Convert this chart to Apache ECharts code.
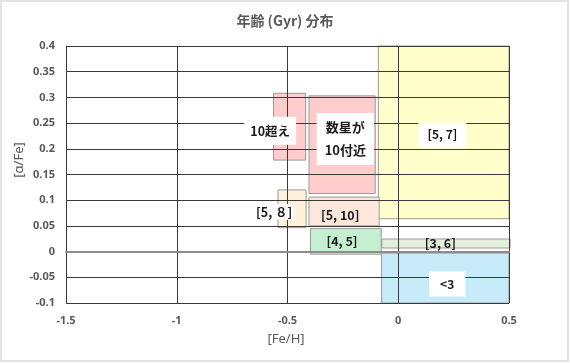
<!DOCTYPE html>
<html>
<head>
<meta charset="utf-8">
<script src="https://cdn.jsdelivr.net/npm/echarts@6/dist/echarts.min.js"></script>
<style>
html,body{margin:0;padding:0;background:#fff;}
#c{width:570px;height:363px;}
</style>
</head>
<body>
<div id="c"></div>
<script>
// Tick labels
var xTicks = [-1.5, -1, -0.5, 0, 0.5];
var yTicks = [-0.1, -0.05, 0, 0.05, 0.1, 0.15, 0.2, 0.25, 0.3, 0.35, 0.4];
// Age groups (labels)
var groups = ['[5, 7]', '10超え', '数星が\n10付近', '[5, ８]', '[5, 10]', '[4, 5]', '[3, 6]', '<3'];
// Box extents in data units: [Fe/H] min/max, [α/Fe] min/max
var feMin   = [-0.09, -0.563, -0.403, -0.543, -0.403, -0.396, -0.074, -0.075];
var feMax   = [ 0.50, -0.418, -0.104, -0.416, -0.086, -0.077,  0.505,  0.50];
var alMin   = [ 0.064, 0.178,  0.113,  0.0465, 0.050, -0.005,  0.007, -0.10];
var alMax   = [ 0.40,  0.308,  0.303,  0.120,  0.106,  0.045,  0.0245, -0.003];
// Label anchor points in data units
var labelFe = [0.199, -0.578, -0.239, -0.56, -0.262, -0.254, 0.19, 0.221];
var labelAl = [0.227,  0.235,  0.219,  0.077, 0.071,  0.0206, 0.0167, -0.063];

var fills = ['#ffffcc', '#ffcccc', '#ffcccc', '#fff2dc', '#fde6dc', '#c6efd2', '#e2f0da', '#c7ebf9'];
var boxStyle = [
  {bg:'#fff', pad:[5,9], lh:14, fs:12},
  {bg:'#fff', pad:[7,6], lh:14, fs:12.5},
  {bg:'#fff', pad:[3,8], lh:23, fs:13},
  {bg:'#fff', pad:[1,1], lh:14, fs:12.5},
  {bg:null, pad:[0,0], lh:14, fs:12.5},
  {bg:null, pad:[0,0], lh:14, fs:12.5},
  {bg:null, pad:[0,0], lh:14, fs:12.5},
  {bg:'#fff', pad:[5,11], lh:15, fs:12}
];

var rectData = groups.map(function(g, i){ return [feMin[i], feMax[i], alMin[i], alMax[i], i]; });
var labelData = groups.map(function(g, i){ return [labelFe[i], labelAl[i], i]; });

var chart = echarts.init(document.getElementById('c'), null, {renderer:'canvas'});
var tickStyle = {color:'#595959', fontSize:11, fontFamily:'Noto Sans, DejaVu Sans, sans-serif', fontWeight:'bold'};
chart.setOption({
  animation:false,
  backgroundColor:'#fff',
  title:{text:'年齢 (Gyr) 分布', left:'center', top:9,
    textStyle:{fontSize:14, fontWeight:'bold', color:'#595959', fontFamily:'Noto Sans CJK JP, sans-serif'}},
  grid:{left:66, right:61, top:46, bottom:60},
  xAxis:{type:'value', min:-1.5, max:0.5, interval:0.5, z:4,
    axisLine:{show:true, lineStyle:{color:'#8c8c8c', width:2}},
    axisTick:{show:false},
    axisLabel:{margin:12, formatter:function(v){return String(v);}, textStyle:tickStyle},
    splitLine:{show:true, lineStyle:{color:'#3a3a3a', width:1}}},
  yAxis:{type:'value', min:-0.1, max:0.4, interval:0.05, z:3,
    axisLine:{show:true, onZero:false, lineStyle:{color:'#3a3a3a', width:1}},
    axisTick:{show:false},
    axisLabel:{margin:11, formatter:function(v){return String(parseFloat(v.toFixed(2)));}, textStyle:tickStyle},
    splitLine:{show:true, lineStyle:{color:'#3a3a3a', width:1}}},
  graphic:[
    {type:'rect', shape:{x:1, y:1, width:567, height:360}, style:{fill:'none', stroke:'#e3e3e3', lineWidth:2}, z:100},
    {type:'text', x:286, y:339, style:{text:'[Fe/H]', align:'center', verticalAlign:'middle', fill:'#595959', font:'13px Noto Sans, sans-serif'}},
    {type:'text', x:19, y:160, rotation:Math.PI/2, style:{text:'[α/Fe]', align:'center', verticalAlign:'middle', fill:'#595959', font:'13px Noto Sans, sans-serif'}}
  ],
  series:[
    {type:'custom', z:2, data:rectData, clip:false,
     renderItem:function(params, api){
       var i = api.value(4);
       var p1 = api.coord([api.value(0), api.value(3)]);
       var p2 = api.coord([api.value(1), api.value(2)]);
       return {type:'rect', shape:{x:p1[0], y:p1[1], width:p2[0]-p1[0], height:p2[1]-p1[1]},
         style:{fill:fills[i], stroke:'#9a9a9a', lineWidth:1}};
     }},
    {type:'custom', z:5, data:labelData, clip:false,
     renderItem:function(params, api){
       var i = api.value(2);
       var p = api.coord([api.value(0), api.value(1)]);
       var b = boxStyle[i];
       var st = {text:groups[i], x:0, y:0, align:'center', verticalAlign:'middle', fill:'#1a1a1a',
         font:'bold ' + b.fs + 'px Noto Sans CJK JP, sans-serif', lineHeight:b.lh, padding:b.pad};
       if (b.bg) st.backgroundColor = b.bg;
       return {type:'text', x:p[0], y:p[1], z2:10, style:st};
     }}
  ]
});
</script>
</body>
</html>
